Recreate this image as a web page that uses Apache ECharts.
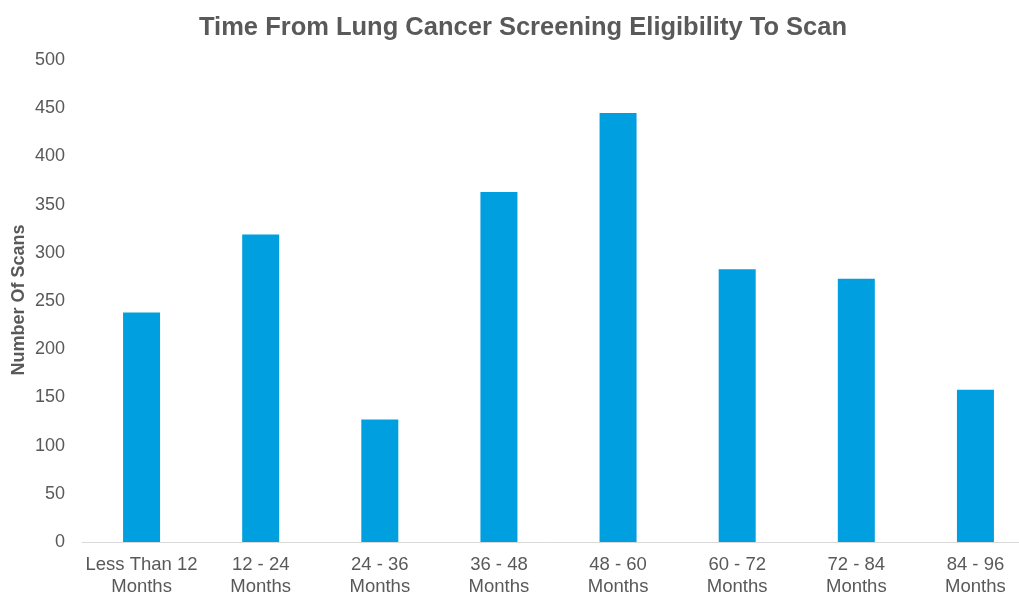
<!DOCTYPE html>
<html>
<head>
<meta charset="utf-8">
<script src="https://cdn.jsdelivr.net/npm/echarts@6/dist/echarts.min.js"></script>
<style>html,body{margin:0;padding:0;background:#fff}#c{width:1019px;height:594px}</style>
</head>
<body>
<div id="c"></div>
<script>
var categories = ['Less Than 12\nMonths', '12 - 24\nMonths', '24 - 36\nMonths', '36 - 48\nMonths', '48 - 60\nMonths', '60 - 72\nMonths', '72 - 84\nMonths', '84 - 96\nMonths'];
var scans = [238, 319, 127, 363, 445, 283, 273, 158];
var yTicks = [0, 50, 100, 150, 200, 250, 300, 350, 400, 450, 500];
var yAxisTitle = 'Number Of Scans';

var chart = echarts.init(document.getElementById('c'));
chart.setOption({
  animation: false,
  backgroundColor: '#ffffff',
  title: {
    text: 'Time From Lung Cancer Screening Eligibility To Scan',
    left: 518, top: 10, textAlign: 'center',
    textStyle: { fontFamily: 'Liberation Sans, Arial', fontSize: 25.5, fontWeight: 'bold', color: '#595959' }
  },
  grid: { left: 82, width: 953, top: 60, bottom: 52, containLabel: false, outerBoundsMode: 'none' },
  graphic: [{
    type: 'text',
    x: 19, y: 300,
    rotation: Math.PI / 2,
    style: {
      text: yAxisTitle,
      fill: '#595959',
      font: 'bold 18px "Liberation Sans", Arial',
      textAlign: 'center',
      textVerticalAlign: 'middle'
    }
  }],
  xAxis: {
    type: 'category',
    data: categories,
    axisLine: { lineStyle: { color: '#d9d9d9', width: 1 } },
    axisTick: { show: false },
    axisLabel: { color: '#595959', fontFamily: 'Liberation Sans, Arial', fontSize: 18.5, lineHeight: 22, margin: 12, interval: 0 }
  },
  yAxis: {
    type: 'value',
    min: yTicks[0], max: yTicks[yTicks.length - 1], interval: 50,
    axisLine: { show: false },
    axisTick: { show: false },
    splitLine: { show: false },
    axisLabel: { color: '#595959', fontFamily: 'Liberation Sans, Arial', fontSize: 18, margin: 17 }
  },
  series: [{
    type: 'bar',
    data: scans,
    barWidth: 37,
    itemStyle: { color: '#009fdf' }
  }]
});
</script>
</body>
</html>
